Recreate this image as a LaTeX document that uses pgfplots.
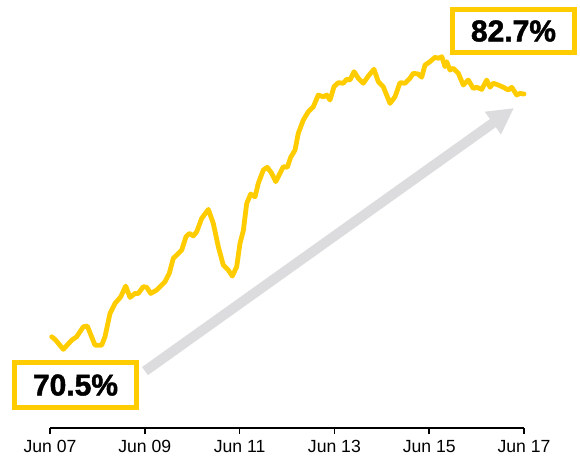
\documentclass[border=0pt]{standalone}
\usepackage{pgfplots}
\pgfplotsset{compat=1.18}
\usepackage{fontspec}
\setmainfont{Liberation Sans}
\newfontfamily\heavyfont[FakeBold=1.6]{Liberation Sans Bold}
\usetikzlibrary{arrows.meta}
\definecolor{gold}{HTML}{FFCC00}
\definecolor{arrowgray}{HTML}{DCDCDE}
\begin{document}
\begin{tikzpicture}
\path[use as bounding box] (0,0) rectangle (435pt,342pt);
\begin{axis}[
  at={(37.5pt,21pt)}, anchor=south west,
  scale only axis, width=355.5pt, height=321pt,
  xmin=7, xmax=17, ymin=65.97, ymax=87.41,
  clip=false,
  axis x line*=bottom,
  hide y axis,
  x axis line style={line width=1.1pt, black},
  xtick={7,9,11,13,15,17},
  xticklabels={Jun 07,Jun 09,Jun 11,Jun 13,Jun 15,Jun 17},
  tick align=outside,
  major tick length=4.5pt,
  xtick style={line width=1.1pt, black},
  ticklabel style={font=\fontsize{13.2pt}{15pt}\selectfont},
  xticklabel style={yshift=-1pt},
]
\draw[arrowgray, line width=7.5pt, -{Triangle[length=19.5pt,width=19.5pt]}]
  (axis cs:9.004,68.82) -- (axis cs:16.789,81.998);
\addplot[gold, line width=3.6pt, line join=round, line cap=round] table {
7.036 70.54
7.105 70.41
7.281 69.91
7.458 70.37
7.563 70.54
7.703 71.04
7.787 71.08
7.949 70.12
8.091 70.12
8.160 70.54
8.266 71.71
8.371 72.21
8.492 72.54
8.597 73.08
8.688 72.51
8.793 72.71
8.863 72.71
8.968 73.05
9.040 73.02
9.124 72.71
9.251 72.88
9.426 73.30
9.517 73.72
9.601 74.47
9.778 74.88
9.869 75.55
9.939 75.72
10.023 75.59
10.095 75.80
10.200 76.47
10.340 76.92
10.445 76.22
10.551 75.05
10.656 74.13
10.762 73.88
10.846 73.58
10.939 74.05
11.008 75.22
11.078 75.85
11.150 77.22
11.234 77.69
11.325 77.55
11.395 78.23
11.500 78.89
11.584 79.03
11.677 78.73
11.762 78.31
11.852 78.73
11.922 79.06
12.006 79.03
12.078 79.53
12.169 79.89
12.238 80.73
12.344 81.40
12.449 81.81
12.555 82.06
12.660 82.65
12.766 82.56
12.838 82.65
12.907 82.40
12.992 83.07
13.082 83.27
13.188 83.24
13.259 83.44
13.329 83.40
13.414 83.82
13.504 83.49
13.610 83.24
13.715 83.60
13.835 83.94
13.926 83.32
14.032 83.06
14.173 82.23
14.278 82.56
14.384 83.27
14.489 83.24
14.595 83.49
14.665 83.74
14.770 83.70
14.842 83.54
14.911 84.15
15.017 84.32
15.122 84.54
15.192 84.49
15.264 84.57
15.333 84.07
15.369 84.32
15.439 83.90
15.508 83.99
15.614 83.74
15.719 83.15
15.825 83.40
15.930 82.98
16.002 83.04
16.108 82.93
16.213 83.40
16.283 83.04
16.352 83.24
16.458 83.15
16.563 83.04
16.669 82.90
16.741 83.04
16.846 82.65
16.916 82.73
17.000 82.70
};
\node[draw=gold, line width=3.75pt, fill=white, minimum width=91.5pt, minimum height=33.75pt, inner sep=0pt,
  font=\fontsize{22.5pt}{24pt}\heavyfont] at (axis cs:7.538,68.12) {70.5\%};
\node[draw=gold, line width=3.75pt, fill=white, minimum width=91.5pt, minimum height=32.25pt, inner sep=0pt,
  font=\fontsize{22.5pt}{24pt}\heavyfont] at (axis cs:16.778,85.856) {82.7\%};
\end{axis}
\end{tikzpicture}
\end{document}
